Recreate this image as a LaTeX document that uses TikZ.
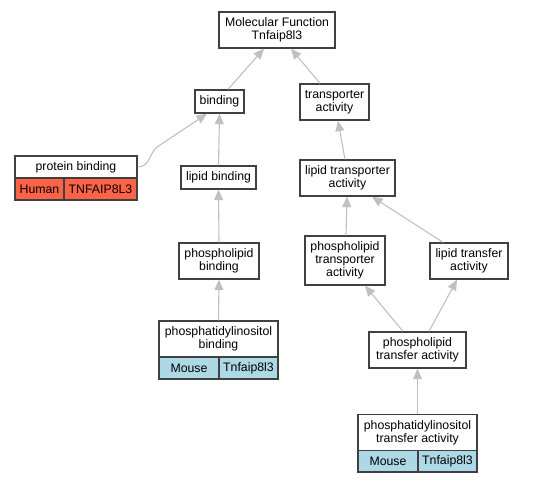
\documentclass[tikz,border=0pt]{standalone}
\usepackage{fontspec}
\setmainfont{Liberation Sans}
\usetikzlibrary{arrows.meta}
\definecolor{humanred}{HTML}{FF6347}
\definecolor{mouseblue}{HTML}{ADD8E6}
\definecolor{edgegray}{HTML}{C0C0C0}
\definecolor{boxline}{HTML}{404040}
\begin{document}
\begin{tikzpicture}[x=1pt,y=-1pt,
  box/.style={draw=boxline, line width=1.35pt, fill=white, align=center, inner sep=0pt,
    font=\fontsize{12.3}{13.3}\selectfont},
  cell/.style={box},
  edge/.style={draw=edgegray, line width=1.1pt, -{Triangle[length=10.5pt,width=9pt]}}]
\useasboundingbox (0,0) rectangle (543,483);
% nodes
\node[box, minimum width=116pt, minimum height=36pt] (mf) at (277,30) {Molecular Function\\Tnfaip8l3};
\node[box, minimum width=49pt, minimum height=23pt] (bind) at (219.5,101.5) {binding};
\node[box, minimum width=69pt, minimum height=36pt] (trans) at (334.5,102) {transporter\\activity};
\node[box, minimum width=122pt, minimum height=22pt] (pb) at (76,167) {protein binding};
\node[cell, fill=humanred, minimum width=49pt, minimum height=22pt] (pbh) at (39.5,189) {Human};
\node[cell, fill=humanred, minimum width=73pt, minimum height=22pt] (pbg) at (100.5,189) {TNFAIP8L3};
\node[box, minimum width=75pt, minimum height=23pt] (lb) at (218.5,177.5) {lipid binding};
\node[box, minimum width=95pt, minimum height=36pt] (lta) at (347.5,178) {lipid transporter\\activity};
\node[box, minimum width=80pt, minimum height=36pt] (plb) at (219,261) {phospholipid\\binding};
\node[box, minimum width=80pt, minimum height=49pt] (plta) at (345,260.5) {phospholipid\\transporter\\activity};
\node[box, minimum width=78pt, minimum height=36pt] (ltf) at (469,261) {lipid transfer\\activity};
\node[box, minimum width=119pt, minimum height=36pt] (pib) at (218.5,339) {phosphatidylinositol\\binding};
\node[cell, fill=mouseblue, minimum width=60pt, minimum height=22pt] (pibm) at (189,368) {Mouse};
\node[cell, fill=mouseblue, minimum width=59pt, minimum height=22pt] (pibg) at (248.5,368) {Tnfaip8l3};
\node[box, minimum width=97pt, minimum height=36pt] (pltf) at (417.5,350) {phospholipid\\transfer activity};
\node[box, minimum width=119pt, minimum height=36pt] (pitf) at (417.5,432.7) {phosphatidylinositol\\transfer activity};
\node[cell, fill=mouseblue, minimum width=60pt, minimum height=21.3pt] (pitfm) at (388,461.35) {Mouse};
\node[cell, fill=mouseblue, minimum width=59pt, minimum height=21.3pt] (pitfg) at (447.5,461.35) {Tnfaip8l3};
% edges
\draw[edge] ([xshift=8.5pt]bind.north) -- ([xshift=-13pt]mf.south);
\draw[edge] ([xshift=-14.5pt]trans.north) -- ([xshift=14pt]mf.south);
\draw[edge] (lb.north) -- (bind.south);
\coordinate (pbc) at (157,147);
\draw[edge] ([xshift=1pt]pb.east) .. controls (150,166) and (149,154) .. (pbc) -- ([xshift=-12.5pt]bind.south);
\draw[edge] ([xshift=-2.5pt]lta.north) -- ([xshift=3.5pt]trans.south);
\draw[edge] (plb.north) -- (lb.south);
\draw[edge] (pib.north) -- (plb.south);
\draw[edge] ([xshift=1pt]plta.north) -- ([xshift=-0.5pt]lta.south);
\draw[edge] ([xshift=-26pt]ltf.north) -- ([xshift=24.5pt]lta.south);
\draw[edge] ([xshift=-14.5pt]pltf.north) -- ([xshift=20pt]plta.south);
\draw[edge] ([xshift=11.5pt]pltf.north) -- ([xshift=-12pt]ltf.south);
\draw[edge] (pitf.north) -- (pltf.south);
\end{tikzpicture}
\end{document}
